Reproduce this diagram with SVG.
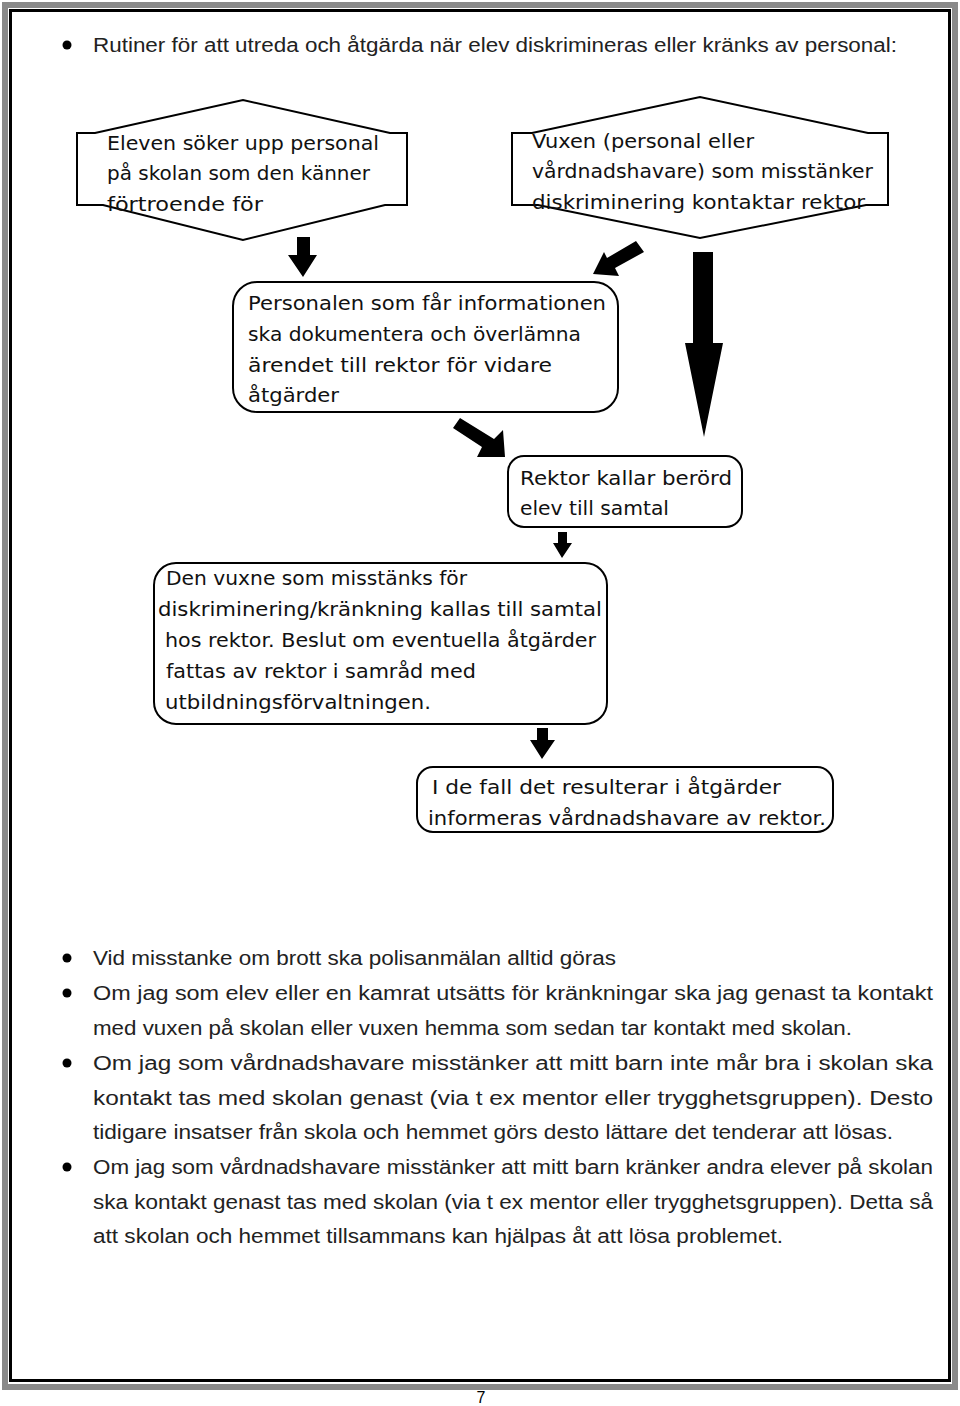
<svg xmlns="http://www.w3.org/2000/svg" width="960" height="1406" viewBox="0 0 960 1406">
<style>
.box{fill:#fff;stroke:#000;stroke-width:2}
.ft{font-family:"DejaVu Sans","Liberation Sans",sans-serif;font-size:20px;fill:#111}
.bt{font-family:"Liberation Sans","Open Sans",sans-serif;font-size:20px;fill:#222}
.arr{fill:#000}
</style>
<rect x="0" y="0" width="960" height="1406" fill="#fff"/>
<rect x="5" y="5" width="950" height="1382" fill="none" stroke="#8a8a8a" stroke-width="6"/>
<rect x="10.5" y="10.5" width="939" height="1370" fill="none" stroke="#000" stroke-width="3"/>

<g id="heading">
<circle cx="67" cy="45" r="4.5" fill="#000"/>
<text class="bt" x="93" y="52" textLength="804" lengthAdjust="spacingAndGlyphs">Rutiner för att utreda och åtgärda när elev diskrimineras eller kränks av personal:</text>
</g>

<g id="n1">
<polygon class="box" points="77,133 95,133 243,100 390,133 407,133 407,205 385,205 243,240 103,205 77,205"/>
<text class="ft" x="107" y="150" textLength="272" lengthAdjust="spacingAndGlyphs">Eleven söker upp personal</text>
<text class="ft" x="107" y="180" textLength="263" lengthAdjust="spacingAndGlyphs">på skolan som den känner</text>
<text class="ft" x="107" y="211" textLength="156" lengthAdjust="spacingAndGlyphs">förtroende för</text>
</g>

<g id="n2">
<polygon class="box" points="512,133 532,133 700,97 868,133 888,133 888,205 866,205 700,238 538,205 512,205"/>
<text class="ft" x="532" y="148" textLength="222" lengthAdjust="spacingAndGlyphs">Vuxen (personal eller</text>
<text class="ft" x="532" y="178" textLength="341" lengthAdjust="spacingAndGlyphs">vårdnadshavare) som misstänker</text>
<text class="ft" x="532" y="209" textLength="333" lengthAdjust="spacingAndGlyphs">diskriminering kontaktar rektor</text>
</g>

<g id="n3">
<rect class="box" x="233" y="282" width="385" height="130" rx="24"/>
<text class="ft" x="248" y="310" textLength="358" lengthAdjust="spacingAndGlyphs">Personalen som får informationen</text>
<text class="ft" x="248" y="341" textLength="333" lengthAdjust="spacingAndGlyphs">ska dokumentera och överlämna</text>
<text class="ft" x="248" y="372" textLength="304" lengthAdjust="spacingAndGlyphs">ärendet till rektor för vidare</text>
<text class="ft" x="248" y="402" textLength="91" lengthAdjust="spacingAndGlyphs">åtgärder</text>
</g>

<g id="n4">
<rect class="box" x="508" y="456" width="234" height="71" rx="16"/>
<text class="ft" x="520" y="485" textLength="212" lengthAdjust="spacingAndGlyphs">Rektor kallar berörd</text>
<text class="ft" x="520" y="515" textLength="149" lengthAdjust="spacingAndGlyphs">elev till samtal</text>
</g>

<g id="n5">
<rect class="box" x="154" y="563" width="453" height="161" rx="22"/>
<text class="ft" x="166" y="585" textLength="301" lengthAdjust="spacingAndGlyphs">Den vuxne som misstänks för</text>
<text class="ft" x="158" y="616" textLength="444" lengthAdjust="spacingAndGlyphs">diskriminering/kränkning kallas till samtal</text>
<text class="ft" x="165" y="647" textLength="431" lengthAdjust="spacingAndGlyphs">hos rektor. Beslut om eventuella åtgärder</text>
<text class="ft" x="166" y="678" textLength="310" lengthAdjust="spacingAndGlyphs">fattas av rektor i samråd med</text>
<text class="ft" x="165" y="709" textLength="266" lengthAdjust="spacingAndGlyphs">utbildningsförvaltningen.</text>
</g>

<g id="n6">
<rect class="box" x="417" y="767" width="416" height="65" rx="16"/>
<text class="ft" x="432" y="794" textLength="349" lengthAdjust="spacingAndGlyphs">I de fall det resulterar i åtgärder</text>
<text class="ft" x="428" y="825" textLength="398" lengthAdjust="spacingAndGlyphs">informeras vårdnadshavare av rektor.</text>
</g>

<g id="connectors">
<polygon class="arr" points="297,237 310,237 310,255 317,255 303,277 288,255 297,255"/>
<polygon class="arr" points="636,241 644,252 615,268 619,276 593,274 604,252 607,258"/>
<polygon class="arr" points="693,252 713,252 713,343 723,343 704,437 685,343 693,343"/>
<polygon class="arr" points="460,418 453,428 482,447 477,457 505,457 503,430 494,439"/>
<polygon class="arr" points="558,532 567,532 567,543 572,543 562,558 553,543 558,543"/>
<polygon class="arr" points="537,728 548,728 548,740 555,740 542,759 530,740 537,740"/>
</g>

<g id="bullets">
<circle cx="67" cy="958" r="4.5" fill="#000"/>
<circle cx="67" cy="993" r="4.5" fill="#000"/>
<circle cx="67" cy="1063" r="4.5" fill="#000"/>
<circle cx="67" cy="1167" r="4.5" fill="#000"/>
<text class="bt" x="93" y="965" textLength="523" lengthAdjust="spacingAndGlyphs">Vid misstanke om brott ska polisanmälan alltid göras</text>
<text class="bt" x="93" y="1000" textLength="840" lengthAdjust="spacingAndGlyphs">Om jag som elev eller en kamrat utsätts för kränkningar ska jag genast ta kontakt</text>
<text class="bt" x="93" y="1035" textLength="759" lengthAdjust="spacingAndGlyphs">med vuxen på skolan eller vuxen hemma som sedan tar kontakt med skolan.</text>
<text class="bt" x="93" y="1070" textLength="840" lengthAdjust="spacingAndGlyphs">Om jag som vårdnadshavare misstänker att mitt barn inte mår bra i skolan ska</text>
<text class="bt" x="93" y="1105" textLength="840" lengthAdjust="spacingAndGlyphs">kontakt tas med skolan genast (via t ex mentor eller trygghetsgruppen). Desto</text>
<text class="bt" x="93" y="1139" textLength="800" lengthAdjust="spacingAndGlyphs">tidigare insatser från skola och hemmet görs desto lättare det tenderar att lösas.</text>
<text class="bt" x="93" y="1174" textLength="840" lengthAdjust="spacingAndGlyphs">Om jag som vårdnadshavare misstänker att mitt barn kränker andra elever på skolan</text>
<text class="bt" x="93" y="1209" textLength="840" lengthAdjust="spacingAndGlyphs">ska kontakt genast tas med skolan (via t ex mentor eller trygghetsgruppen). Detta så</text>
<text class="bt" x="93" y="1243" textLength="690" lengthAdjust="spacingAndGlyphs">att skolan och hemmet tillsammans kan hjälpas åt att lösa problemet.</text>
</g>

<text x="481" y="1403" text-anchor="middle" font-family="Liberation Sans, sans-serif" font-size="16" fill="#000">7</text>
</svg>
